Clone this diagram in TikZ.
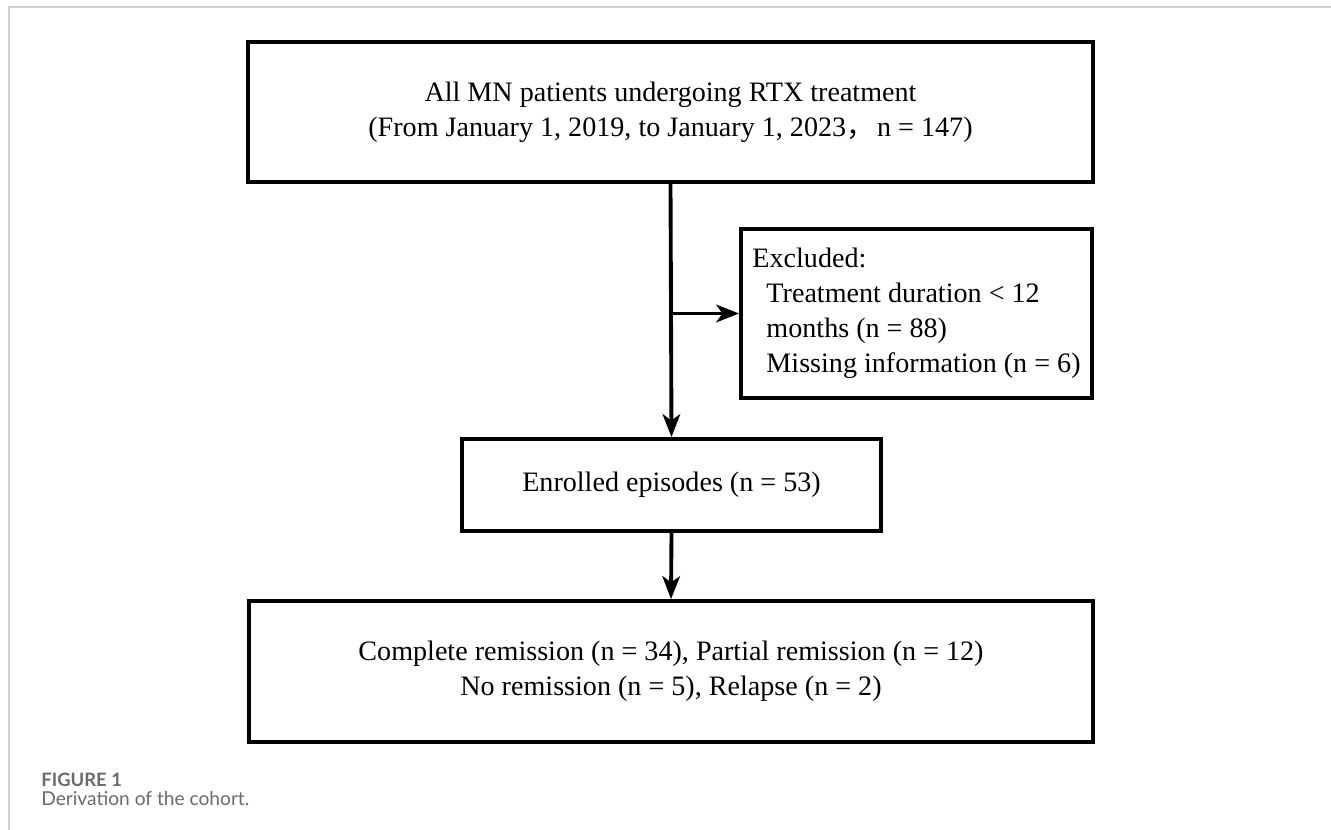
\documentclass[tikz,border=0pt]{standalone}
\usepackage{fontspec}
\setmainfont{Liberation Serif}
\newfontfamily\capfont{Lato}
\newfontfamily\cjkfont{Noto Sans CJK SC}
\usepackage{tikz}
\usetikzlibrary{arrows.meta}

\definecolor{framegray}{HTML}{D0D0D0}
\definecolor{capgray}{HTML}{6B6B6B}

\begin{document}
\begin{tikzpicture}[x=0.02cm, y=-0.02cm, >={Stealth[length=13pt, width=10pt, inset=3.5pt]},
  flowbox/.style={draw, line width=2.2pt, inner sep=0pt, align=center,
    font=\fontsize{16}{20}\selectfont},
  flowarrow/.style={->, line width=2.2pt}]
\useasboundingbox (0,0) rectangle (1331,830);
% page frame
\draw[framegray, line width=1pt] (1331,7) -- (9,7) -- (9,830);
% boxes
\node[flowbox, minimum width=16.9cm, minimum height=2.8cm] (allpat) at (670.5,112) {All MN patients undergoing RTX treatment\\(From January 1, 2019, to January 1, 2023{\cjkfont ，}\hspace{0.1em}n = 147)};
\node[flowbox, align=left, minimum width=7.02cm, minimum height=3.38cm] (excl) at (916.5,313.5) {Excluded:\\\hspace*{0.5em}Treatment duration < 12\\\hspace*{0.5em}months (n = 88)\\\hspace*{0.5em}Missing information (n = 6)};
\node[flowbox, minimum width=8.38cm, minimum height=1.84cm] (enrol) at (671.5,485) {Enrolled episodes (n = 53)};
\node[flowbox, minimum width=16.88cm, minimum height=2.82cm] (outcome) at (671,671.5) {Complete remission (n = 34), Partial remission (n = 12)\\No remission (n = 5), Relapse (n = 2)};
% connectors
\draw[flowarrow] (allpat.south) -- (enrol.north);
\draw[flowarrow] (allpat.south |- excl.west) -- (excl.west);
\draw[flowarrow] (enrol.south) -- (outcome.north);
% caption
\node[anchor=west, inner sep=0pt, text=capgray, font=\capfont\bfseries\fontsize{10.5}{12}\selectfont] (figno) at (41,780) {FIGURE 1};
\node[anchor=west, inner sep=0pt, text=capgray, font=\capfont\fontsize{10.9}{12}\selectfont] (figcap) at (41,799) {Derivation of the cohort.};
\end{tikzpicture}
\end{document}
